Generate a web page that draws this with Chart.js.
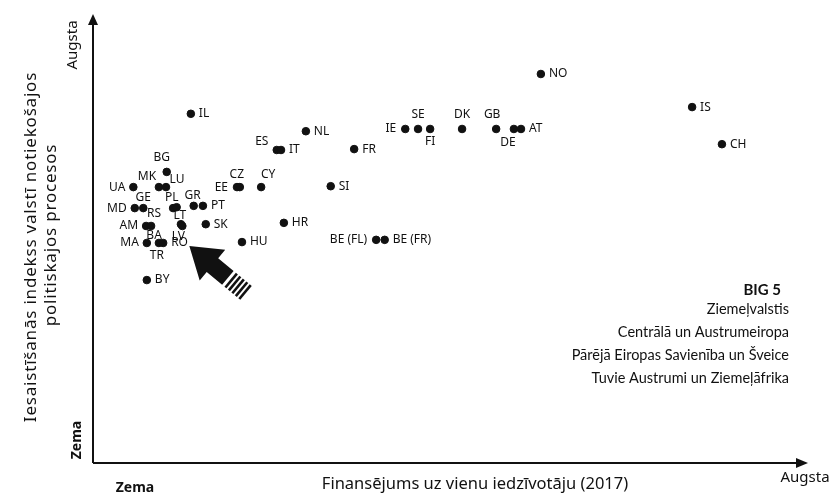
<!DOCTYPE html>
<html>
<head>
    <title>Finansējums un iesaistīšanās</title>
    <script src="https://cdn.jsdelivr.net/npm/chart.js@4.4.1/dist/chart.umd.min.js"></script>
    <style>
        body {
            margin: 0;
            background: #fff;
        }
        .chart-box {
            width: 835px;
            height: 496px;
            position: relative;
        }
    </style>
</head>
<body>
    <div class="chart-box">
        <canvas id="chart"></canvas>
    </div>

    <script>
        // Country codes, funding per capita (x, relative 0-100) and engagement index (y, relative 0-100)
        const countries = ['IL', 'NL', 'ES', 'IT', 'FR', 'IE', 'SE', 'FI', 'DK', 'GB', 'DE', 'AT', 'NO', 'IS', 'CH',
            'BG', 'UA', 'MK', 'LU', 'EE', 'CZ', 'CY', 'SI', 'MD', 'GE', 'RS', 'PL', 'GR', 'PT', 'LT', 'LV',
            'AM', 'BA', 'SK', 'HR', 'MA', 'TR', 'RO', 'HU', 'BE (FL)', 'BE (FR)', 'BY'];
        const funding = [13.5, 29.7, 25.6, 26.2, 36.5, 43.7, 45.5, 47.2, 51.7, 56.5, 59.0, 60.0, 62.8, 84.1, 88.3,
            10.1, 5.4, 9.0, 10.0, 20.0, 20.4, 23.4, 33.2, 5.6, 6.8, 11.0, 11.5, 13.9, 15.2, 12.1, 12.3,
            7.2, 7.9, 15.6, 26.6, 7.3, 9.0, 9.6, 20.7, 39.6, 40.8, 7.3];
        const engagement = [77.9, 74.0, 69.8, 69.8, 70.0, 74.5, 74.5, 74.5, 74.5, 74.5, 74.5, 74.5, 86.8, 79.4, 71.1,
            64.9, 61.5, 61.5, 61.5, 61.5, 61.5, 61.5, 61.7, 56.8, 56.8, 56.8, 57.0, 57.3, 57.3, 53.2, 52.8,
            52.8, 52.8, 53.2, 53.5, 49.0, 49.0, 49.0, 49.2, 49.7, 49.7, 40.7];

        const legendLines = ['BIG 5', 'Ziemeļvalstis', 'Centrālā un Austrumeiropa',
            'Pārējā Eiropas Savienība un Šveice', 'Tuvie Austrumi un Ziemeļāfrika'];
        const yTitle = ['Iesaistīšanās indekss valstī notiekošajos', 'politiskajos procesos'];
        const xTitle = 'Finansējums uz vienu iedzīvotāju (2017)';
        const lowLabel = 'Zema';
        const highLabel = 'Augsta';
        const highlighted = 'LV';

        // label placement: [dx, dy, align]
        const R = [8, 0, 'left'];
        const L = [-8, 0, 'right'];
        const labelPlace = {
            'ES': [-15, -8, 'center'], 'IE': [-9, 0, 'right'], 'SE': [0, -14, 'center'],
            'FI': [0, 13, 'center'], 'DK': [0, -14, 'center'], 'GB': [-4, -14, 'center'],
            'DE': [-6, 14, 'center'], 'BG': [-5, -14, 'center'], 'UA': L,
            'MK': [-12, -11, 'center'], 'LU': [11, -8, 'center'], 'EE': [-9, 0, 'right'],
            'CZ': [-3, -13, 'center'], 'CY': [7, -13, 'center'], 'MD': L,
            'GE': [0, -11, 'center'], 'RS': [-19, 5, 'center'], 'PL': [-5, -10, 'center'],
            'GR': [-1, -10, 'center'], 'LT': [-1, -9, 'center'], 'LV': [-4, 11, 'center'],
            'AM': L, 'BA': [3, 10, 'center'], 'MA': L, 'TR': [-2, 13, 'center'],
            'BE (FL)': [-9, 0, 'right']
        };

        const FONT = '"Noto Sans", "DejaVu Sans", sans-serif';

        const annotate = {
            id: 'annotate',
            afterDraw(chart) {
                const c = chart.ctx;
                const a = chart.chartArea;
                const meta = chart.getDatasetMeta(0);
                c.save();

                // point labels
                c.fillStyle = '#111';
                c.font = '12px ' + FONT;
                c.textBaseline = 'middle';
                meta.data.forEach((pt, i) => {
                    const p = labelPlace[countries[i]] || R;
                    c.textAlign = p[2];
                    c.fillText(countries[i], pt.x + p[0], pt.y + p[1]);
                });

                // axes with arrow heads
                const x0 = a.left - 2, y0 = a.bottom + 1;
                c.strokeStyle = '#111';
                c.fillStyle = '#111';
                c.lineWidth = 2;
                c.beginPath();
                c.moveTo(x0, y0);
                c.lineTo(x0, a.top + 6);
                c.moveTo(x0, y0);
                c.lineTo(a.right - 4, y0);
                c.stroke();
                c.beginPath();
                c.moveTo(x0, a.top - 1);
                c.lineTo(x0 - 5, a.top + 10);
                c.lineTo(x0 + 5, a.top + 10);
                c.closePath();
                c.fill();
                c.beginPath();
                c.moveTo(a.right + 3, y0);
                c.lineTo(a.right - 9, y0 - 5);
                c.lineTo(a.right - 9, y0 + 5);
                c.closePath();
                c.fill();

                // axis end labels
                c.textAlign = 'center';
                c.font = 'bold 14px ' + FONT;
                c.fillText(lowLabel, a.left + 40, a.bottom + 26);
                c.font = '15px ' + FONT;
                c.fillText(highLabel, a.right, a.bottom + 16);
                c.save();
                c.translate(x0 - 20, a.top + 30);
                c.rotate(-Math.PI / 2);
                c.font = '15px ' + FONT;
                c.fillText(highLabel, 0, 0);
                c.restore();
                c.save();
                c.translate(x0 - 16, a.bottom - 22);
                c.rotate(-Math.PI / 2);
                c.font = 'bold 14px ' + FONT;
                c.fillText(lowLabel, 0, 0);
                c.restore();

                // axis titles
                c.font = '16.5px ' + FONT;
                c.fillText(xTitle, 475, a.bottom + 22);
                c.save();
                c.translate(31, 247);
                c.rotate(-Math.PI / 2);
                c.font = '17px ' + FONT;
                c.letterSpacing = '0.8px';
                c.fillText(yTitle[0], 0, 0);
                c.fillText(yTitle[1], 12, 20);
                c.letterSpacing = '0px';
                c.restore();

                // group legend text
                c.textAlign = 'right';
                c.font = 'bold 15px Lato, ' + FONT;
                c.fillText(legendLines[0], 781, 290);
                c.font = '14.5px Lato, ' + FONT;
                for (let k = 1; k < legendLines.length; k++) {
                    c.fillText(legendLines[k], 789, 286 + k * 23);
                }

                // big arrow pointing at the highlighted country
                const lv = meta.data[countries.indexOf(highlighted)];
                c.save();
                c.translate(lv.x + 7, lv.y + 20);
                c.rotate(Math.atan2(48, 58));
                c.fillStyle = '#111';
                c.beginPath();
                c.moveTo(0, 0);
                c.lineTo(30, -20);
                c.lineTo(30, -9);
                c.lineTo(50, -9);
                c.lineTo(50, 9);
                c.lineTo(30, 9);
                c.lineTo(30, 20);
                c.closePath();
                c.fill();
                for (let s = 0; s < 5; s++) {
                    c.fillRect(53 + s * 4.5, -9, 2.6, 18);
                }
                c.restore();

                c.restore();
            }
        };

        new Chart(document.getElementById('chart'), {
            type: 'scatter',
            data: {
                datasets: [{
                    data: countries.map((c, i) => ({ x: funding[i], y: engagement[i] })),
                    backgroundColor: '#111',
                    borderColor: '#111',
                    pointRadius: 3.8,
                    pointHoverRadius: 3.8
                }]
            },
            options: {
                responsive: true,
                maintainAspectRatio: false,
                animation: false,
                layout: {
                    padding: { left: 95, right: 30, top: 15, bottom: 34 }
                },
                scales: {
                    x: { type: 'linear', min: 0, max: 100, display: false },
                    y: { type: 'linear', min: 0, max: 100, display: false }
                },
                plugins: {
                    legend: { display: false },
                    tooltip: { enabled: false }
                }
            },
            plugins: [annotate]
        });
    </script>
</body>
</html>
